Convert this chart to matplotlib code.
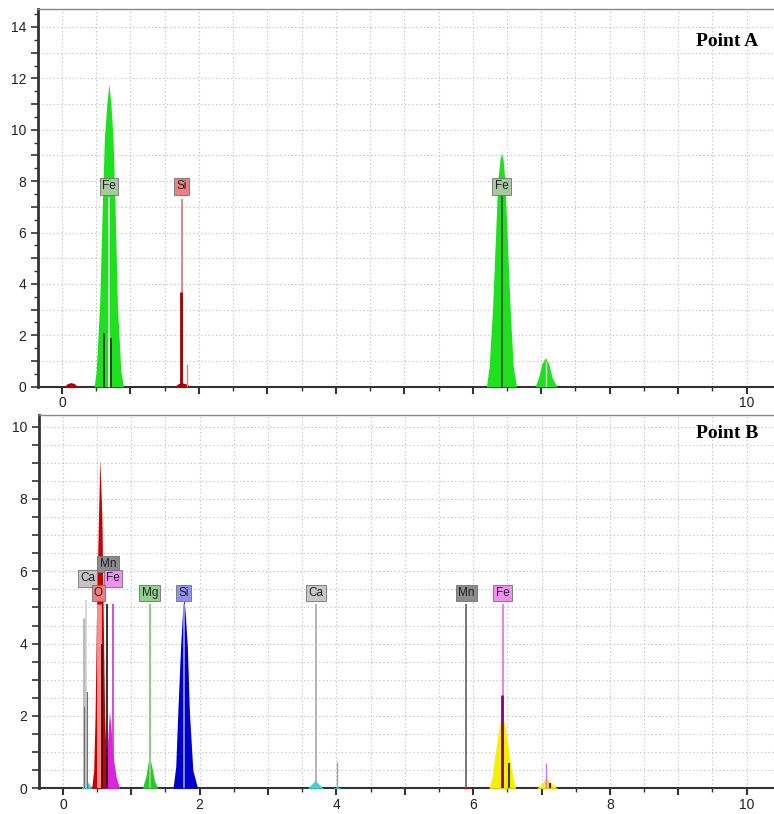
import matplotlib
matplotlib.use("Agg")
import matplotlib.pyplot as plt
from matplotlib.ticker import MultipleLocator

plt.rcParams['font.family'] = ['Liberation Sans', 'DejaVu Sans']

# ---------- Point A (keV, counts) ----------
a_feL_x = [0.47, 0.50, 0.55, 0.59, 0.62, 0.655, 0.685, 0.715, 0.745, 0.775, 0.81, 0.86, 0.90]
a_feL_y = [0, 0.6, 3.2, 7.1, 9.7, 11.0, 11.8, 11.0, 9.7, 7.1, 3.2, 0.6, 0]
a_feK_x = [6.20, 6.24, 6.29, 6.33, 6.365, 6.395, 6.42, 6.445, 6.47, 6.505, 6.545, 6.59, 6.64]
a_feK_y = [0, 0.8, 3.1, 5.7, 8.0, 8.8, 9.1, 8.8, 8.0, 5.7, 3.1, 0.8, 0]
a_feKb_x = [6.91, 6.96, 7.01, 7.06, 7.11, 7.16, 7.23]
a_feKb_y = [0, 0.35, 0.9, 1.13, 0.9, 0.35, 0]
a_c_x = [0.03, 0.08, 0.13, 0.18, 0.23]
a_c_y = [0, 0.12, 0.16, 0.12, 0]
a_si_x = [1.64, 1.70, 1.76, 1.82, 1.88]
a_si_y = [0, 0.12, 0.15, 0.1, 0]

# marker lines: energy, height, colour, width
a_lines_x = [0.69, 6.42, 1.75, 0.61, 0.72, 1.74, 1.83, 7.07]
a_lines_h = [7.4, 7.5, 7.3, 2.1, 1.9, 3.7, 0.9, 1.0]
a_lines_c = ['#e8f4e8', '#305030', '#e07070', '#203020', '#203020', '#a00000', '#e08080', '#c0f0c0']
a_lines_w = [1.2, 1.2, 1.2, 1.2, 1.2, 2.0, 1.0, 1.0]

a_labels = ['Fe', 'Si', 'Fe']
a_label_x = [0.69, 1.75, 6.42]
a_label_y = [7.8, 7.8, 7.8]
a_label_c = ['#a8c8a0', '#f08080', '#a8c8a0']

# ---------- Point B ----------
b_o_x = [0.42, 0.45, 0.47, 0.49, 0.52, 0.54, 0.57, 0.59, 0.61, 0.64, 0.67]
b_o_y = [0, 0.5, 2.0, 4.7, 7.5, 9.1, 7.5, 4.7, 2.0, 0.4, 0]
b_feL_x = [0.62, 0.65, 0.68, 0.71, 0.74, 0.78, 0.83]
b_feL_y = [0, 1.2, 2.15, 1.5, 0.8, 0.3, 0]
b_caL_x = [0.27, 0.31, 0.35, 0.39, 0.42]
b_caL_y = [0, 0.12, 0.2, 0.1, 0]
b_mg_x = [1.16, 1.21, 1.25, 1.27, 1.30, 1.34, 1.39]
b_mg_y = [0, 0.3, 0.75, 0.85, 0.6, 0.2, 0]
b_si_x = [1.61, 1.65, 1.68, 1.72, 1.75, 1.77, 1.79, 1.82, 1.85, 1.90, 1.97]
b_si_y = [0, 0.6, 2.1, 3.9, 4.9, 5.25, 4.8, 3.9, 2.1, 0.5, 0]
b_caK_x = [3.58, 3.64, 3.69, 3.74, 3.81]
b_caK_y = [0, 0.12, 0.22, 0.12, 0]
b_caKb_x = [3.95, 4.01, 4.07]
b_caKb_y = [0, 0.04, 0]
b_mnK_x = [5.84, 5.90, 5.96]
b_mnK_y = [0, 0.05, 0]
b_feK_x = [6.23, 6.28, 6.31, 6.35, 6.38, 6.42, 6.46, 6.50, 6.55, 6.62]
b_feK_y = [0, 0.3, 0.8, 1.3, 1.7, 2.0, 1.8, 1.3, 0.6, 0]
b_feKb_x = [6.93, 7.00, 7.07, 7.13, 7.23]
b_feKb_y = [0, 0.12, 0.3, 0.15, 0]

b_lines_x = [0.525, 0.31, 0.32, 0.35, 0.34, 0.575, 0.65, 0.73, 1.27, 1.77,
             3.70, 4.01, 5.90, 6.43, 6.42, 6.52, 7.06, 7.12]
b_lines_h = [5.1, 4.7, 2.25, 2.65, 5.2, 4.0, 5.1, 5.1, 5.1, 5.1,
             5.1, 0.72, 5.1, 5.1, 2.58, 0.7, 0.7, 0.15]
b_lines_c = ['#f49090', '#b8b8b8', '#707070', '#707070', '#d0d0d0', '#500000', '#101010',
             '#d030d0', '#90c890', '#a0a0ff', '#a8a8a8', '#a0a0a0', '#606060',
             '#e070e0', '#8a008a', '#404000', '#e070e0', '#800000']
b_lines_w = [3.5, 2.0, 1.5, 1.5, 1.2, 1.2, 1.2, 1.2, 1.5, 1.2,
             1.2, 1.0, 1.2, 1.2, 2.0, 1.5, 1.0, 1.5]

b_labels = ['Ca', 'Mn', 'Fe', 'O', 'Mg', 'Si', 'Ca', 'Mn', 'Fe']
b_label_x = [0.36, 0.66, 0.73, 0.52, 1.27, 1.77, 3.70, 5.90, 6.43]
b_label_y = [5.8, 6.2, 5.8, 5.4, 5.4, 5.4, 5.4, 5.4, 5.4]
b_label_c = ['#c4c4c4', '#8c8c8c', '#f090f0', '#f08080', '#90d090', '#9090f0',
             '#c8c8c8', '#8c8c8c', '#f090f0']


def style_axes(ax, ymax, xlabels, ystep, ylabels):
    ax.set_xlim(-0.35, 10.4)
    ax.set_ylim(0, ymax)
    ticks = list(range(0, 11))
    ax.set_xticks(ticks)
    ax.set_xticklabels([str(t) if t in xlabels else '' for t in ticks])
    ax.xaxis.set_minor_locator(MultipleLocator(0.5))
    yt = [i * ystep for i in range(int(ymax / ystep) + 1)]
    ax.set_yticks(yt)
    ax.set_yticklabels([str(int(t)) if t in ylabels else '' for t in yt])
    ax.yaxis.set_minor_locator(MultipleLocator(0.5))
    ax.grid(which='major', color='#c4c4c4', linestyle=(0, (1.2, 2.2)), lw=0.8)
    ax.grid(which='minor', axis='x', color='#c4c4c4', linestyle=(0, (1.2, 2.2)), lw=0.8)
    ax.set_axisbelow(True)
    ax.tick_params(axis='x', which='major', length=5, width=1.5, colors='#333333',
                   labelsize=10, pad=2)
    ax.tick_params(axis='x', which='minor', length=3, width=1.0, colors='#333333')
    ax.tick_params(axis='y', which='major', length=5, width=1.2, colors='#333333',
                   labelsize=10)
    ax.tick_params(axis='y', which='minor', length=3, width=1.0, colors='#333333')
    for lbl in ax.get_xticklabels() + ax.get_yticklabels():
        lbl.set_color('#222222')
    ax.spines['left'].set_color('#333333')
    ax.spines['left'].set_linewidth(2)
    ax.spines['bottom'].set_color('#333333')
    ax.spines['bottom'].set_linewidth(1.5)
    ax.spines['top'].set_color('#888888')
    ax.spines['top'].set_linewidth(1)
    ax.spines['right'].set_visible(False)


def draw_labels(ax, labels, xs, ys, colors):
    for s, x, y, c in zip(labels, xs, ys, colors):
        ax.text(x, y, s, ha='center', va='center', fontsize=8.5, color='#202020',
                bbox=dict(boxstyle='square,pad=0.2', fc=c, ec='#707070', lw=0.6), zorder=6)


fig = plt.figure(figsize=(7.74, 8.14), dpi=100)
ax1 = fig.add_axes([38 / 774, 1 - 386.7 / 814, 736 / 774, (386.7 - 9) / 814])
ax2 = fig.add_axes([39 / 774, 1 - 788.3 / 814, 735 / 774, (788.3 - 415) / 814])

# Point A
ax1.fill_between(a_feL_x, a_feL_y, color='#1fe01f', lw=0, zorder=3)
ax1.fill_between(a_feK_x, a_feK_y, color='#1fe01f', lw=0, zorder=3)
ax1.fill_between(a_feKb_x, a_feKb_y, color='#1fe01f', lw=0, zorder=3)
ax1.fill_between(a_c_x, a_c_y, color='#b00000', lw=0, zorder=3)
ax1.fill_between(a_si_x, a_si_y, color='#b00000', lw=0, zorder=3)
ax1.vlines(a_lines_x, 0, a_lines_h, colors=a_lines_c, linewidths=a_lines_w, zorder=4)
draw_labels(ax1, a_labels, a_label_x, a_label_y, a_label_c)
style_axes(ax1, 14.7, [0, 10], 1, [0, 2, 4, 6, 8, 10, 12, 14])

# Point B
ax2.fill_between(b_o_x, b_o_y, color='#c80000', lw=0, zorder=3)
ax2.fill_between(b_feL_x, b_feL_y, color='#e020e0', lw=0, zorder=3)
ax2.fill_between(b_caL_x, b_caL_y, color='#30d8d8', lw=0, zorder=3)
ax2.fill_between(b_mg_x, b_mg_y, color='#22cc22', lw=0, zorder=3)
ax2.fill_between(b_si_x, b_si_y, color='#0000cc', lw=0, zorder=3)
ax2.fill_between(b_caK_x, b_caK_y, color='#30d8d8', lw=0, zorder=3)
ax2.fill_between(b_caKb_x, b_caKb_y, color='#30d8d8', lw=0, zorder=3)
ax2.fill_between(b_mnK_x, b_mnK_y, color='#c00000', lw=0, zorder=3)
ax2.fill_between(b_feK_x, b_feK_y, color='#f5f000', lw=0, zorder=3)
ax2.fill_between(b_feKb_x, b_feKb_y, color='#f5f000', lw=0, zorder=3)
ax2.vlines(b_lines_x, 0, b_lines_h, colors=b_lines_c, linewidths=b_lines_w, zorder=4)
draw_labels(ax2, b_labels, b_label_x, b_label_y, b_label_c)
style_axes(ax2, 10.32, [0, 2, 4, 6, 8, 10], 0.5, [0, 2, 4, 6, 8, 10])

fig.text(758 / 774, 1 - 42 / 814, 'Point A', ha='right', va='center', fontsize=14,
         fontweight='bold', family=['Liberation Serif', 'DejaVu Serif'])
fig.text(758 / 774, 1 - 434 / 814, 'Point B', ha='right', va='center', fontsize=14,
         fontweight='bold', family=['Liberation Serif', 'DejaVu Serif'])

fig.savefig('out.png', dpi=100)
